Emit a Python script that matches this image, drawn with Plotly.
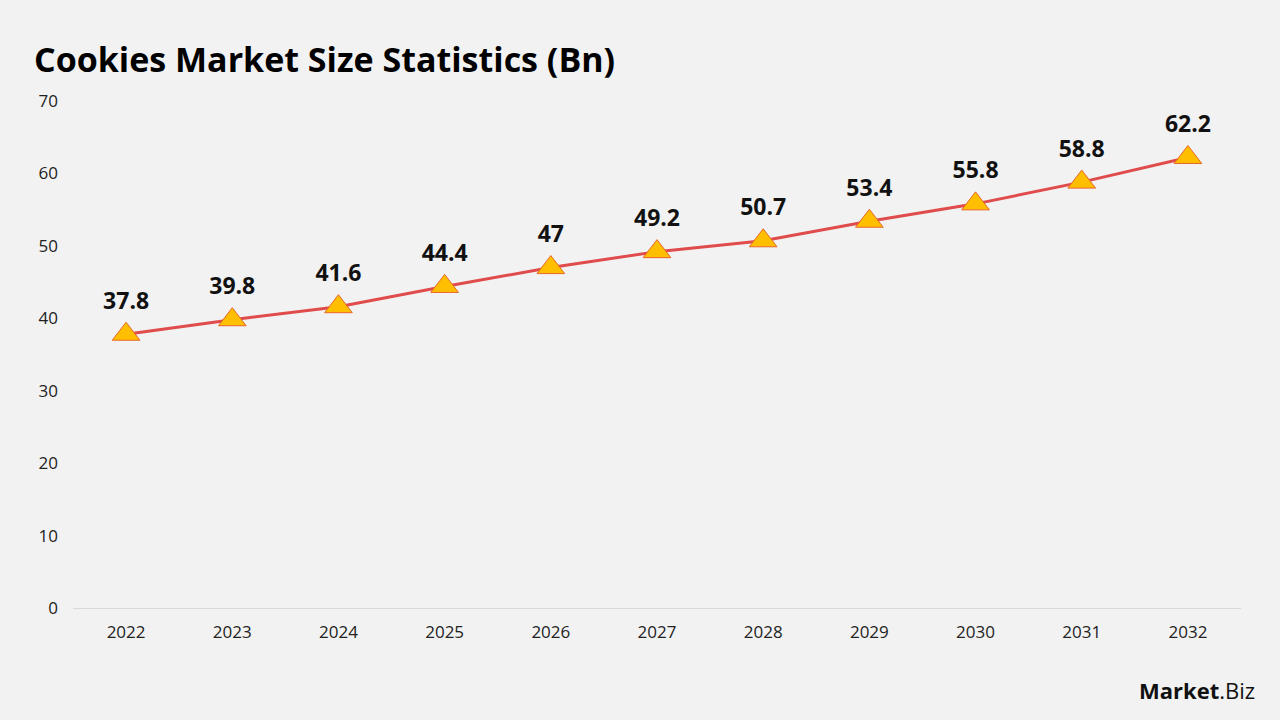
import plotly.graph_objects as go

years = ["2022", "2023", "2024", "2025", "2026", "2027", "2028", "2029", "2030", "2031", "2032"]
values = [37.8, 39.8, 41.6, 44.4, 47, 49.2, 50.7, 53.4, 55.8, 58.8, 62.2]
labels = ["37.8", "39.8", "41.6", "44.4", "47", "49.2", "50.7", "53.4", "55.8", "58.8", "62.2"]
y_ticks = [0, 10, 20, 30, 40, 50, 60, 70]

FONT = "Open Sans"
BG = "#F2F2F2"

fig = go.Figure()
fig.add_trace(go.Scatter(
    x=years, y=values,
    mode="lines+markers",
    line=dict(color="#E04B4B", width=3),
    marker=dict(symbol="triangle-up", size=24, color="#FFBF00",
                line=dict(color="#E8662A", width=1)),
    showlegend=False,
    hoverinfo="skip",
))
# value labels (invisible larger marker pushes text higher)
fig.add_trace(go.Scatter(
    x=years, y=values,
    mode="markers+text",
    marker=dict(size=30, opacity=0),
    text=[f"<b>{t}</b>" for t in labels],
    textposition="top center",
    textfont=dict(family=FONT, size=23, color="#111111"),
    cliponaxis=False,
    showlegend=False,
    hoverinfo="skip",
))

fig.update_layout(
    width=1280, height=720,
    paper_bgcolor=BG, plot_bgcolor=BG,
    margin=dict(l=73, r=39, t=101, b=112),
    font=dict(family=FONT, color="#222222"),
    title=dict(text="<b>Cookies Market Size Statistics (Bn)</b>",
               x=34/1280, xanchor="left", y=1-60/720, yanchor="middle",
               font=dict(family=FONT, size=34, color="#000000")),
    xaxis=dict(type="category", range=[-0.5, 10.5], showgrid=False,
               showline=False, zeroline=False, ticks="",
               tickfont=dict(family=FONT, size=17, color="#222222"),
               ticklabelstandoff=12),
    yaxis=dict(range=[0, 70], tickvals=y_ticks, showgrid=False,
               zeroline=True, zerolinecolor="#D9D9D9", zerolinewidth=1,
               showline=False, ticks="",
               tickfont=dict(family=FONT, size=17, color="#222222"),
               ticklabelstandoff=14),
    annotations=[dict(text="<b>Market</b>.Biz", xref="paper", yref="paper",
                      x=1, xanchor="right", y=-82/507, yanchor="middle",
                      xshift=16, showarrow=False,
                      font=dict(family=FONT, size=22, color="#111111"))],
)

fig.write_html("out.html")
